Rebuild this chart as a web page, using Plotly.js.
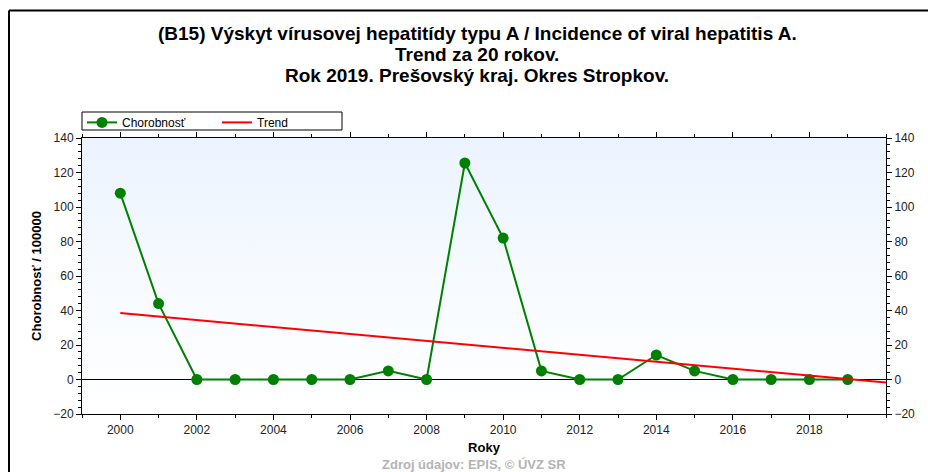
<!DOCTYPE html>
<html>
<head>
<meta charset="utf-8">
<script src="https://cdn.plot.ly/plotly-3.0.1.min.js"></script>
<style>
  body { margin: 0; background: #fff; }
  #wrap { position: relative; width: 928px; height: 472px; }
  #bg { position: absolute; left: 82px; top: 138px; width: 804px; height: 276px;
        background: linear-gradient(to bottom, #ebf3fe 0%, #f7fbff 55%, #ffffff 100%); }
  #graph { position: absolute; left: 0; top: 0; width: 928px; height: 472px; }
</style>
</head>
<body>
<div id="wrap">
  <div id="bg"></div>
  <div id="graph"></div>
</div>
<script>
let roky = [2000, 2001, 2002, 2003, 2004, 2005, 2006, 2007, 2008, 2009,
            2010, 2011, 2012, 2013, 2014, 2015, 2016, 2017, 2018, 2019];
let chorobnost = [108, 44, 0, 0, 0, 0, 0, 5, 0, 125.5,
                  82, 5, 0, 0, 14.2, 5, 0, 0, 0, 0];
let trend_roky = [2000, 2020];
let trend_hodnoty = [38.5, -1.7];
let tick_roky = [2000, 2002, 2004, 2006, 2008, 2010, 2012, 2014, 2016, 2018];
let nadpis = [
    '(B15) Výskyt vírusovej hepatitídy typu A / Incidence of viral hepatitis A.',
    'Trend za 20 rokov.',
    'Rok 2019. Prešovský kraj. Okres Stropkov.'
];

let font_family = 'Liberation Sans, Arial, sans-serif';

let trace_chorobnost = {
    x: roky,
    y: chorobnost,
    name: 'Chorobnosť',
    type: 'scatter',
    mode: 'lines+markers',
    line: {color: '#008000', width: 2},
    marker: {color: '#008000', size: 11}
};

let trace_trend = {
    x: trend_roky,
    y: trend_hodnoty,
    name: 'Trend',
    type: 'scatter',
    mode: 'lines',
    yaxis: 'y2',
    line: {color: '#ff0000', width: 2}
};

let osY = {
    range: [-20, 140],
    dtick: 20,
    tick0: 0,
    ticks: 'outside',
    ticklen: 5,
    tickcolor: '#000',
    showgrid: false,
    showline: true,
    linecolor: '#000',
    linewidth: 1,
    zeroline: true,
    zerolinecolor: '#000',
    zerolinewidth: 1,
    tickfont: {family: font_family, size: 12, color: '#222'},
    minor: {dtick: 4, ticks: 'outside', ticklen: 3, tickcolor: '#000', showgrid: false},
    fixedrange: true
};

// riadky nadpisu ako samostatne anotacie (kvoli rozostupu)
let nadpis_y = [33, 54, 76];
let anotacie = nadpis.map((t, i) => ({
    text: '<b>' + t + '</b>', xref: 'paper', yref: 'paper',
    x: (477 - 82) / 804, y: (414 - nadpis_y[i]) / 276,
    xanchor: 'center', yanchor: 'middle', showarrow: false,
    font: {family: font_family, size: 19, color: '#000'}
}));
anotacie.push({
    text: '<b>Zdroj údajov: EPIS, © ÚVZ SR</b>', xref: 'paper', yref: 'paper',
    x: (474 - 82) / 804, y: (414 - 464) / 276, xanchor: 'center', yanchor: 'middle', showarrow: false,
    font: {family: font_family, size: 13, color: '#b4b4b4'}
});

let layout = {
    width: 928,
    height: 472,
    margin: {l: 82, r: 42, t: 138, b: 58},
    paper_bgcolor: 'rgba(0,0,0,0)',
    plot_bgcolor: 'rgba(0,0,0,0)',
    font: {family: font_family, color: '#000'},
    xaxis: {
        range: [1999, 2020],
        tickvals: tick_roky,
        ticks: 'outside',
        ticklen: 5,
        tickcolor: '#000',
        showgrid: false,
        showline: true,
        linecolor: '#000',
        mirror: 'ticks',
        zeroline: false,
        tickfont: {family: font_family, size: 12, color: '#222'},
        minor: {dtick: 1, tick0: 2000, ticks: 'outside', ticklen: 3, tickcolor: '#000', showgrid: false},
        title: {text: '<b>Roky</b>', font: {family: font_family, size: 13, color: '#000'}, standoff: 6}
    },
    yaxis: Object.assign({}, osY, {
        title: {text: '<b>Chorobnosť / 100000</b>', font: {family: font_family, size: 13, color: '#000'}, standoff: 8}
    }),
    yaxis2: Object.assign({}, osY, {
        overlaying: 'y',
        side: 'right',
        zeroline: false
    }),
    showlegend: true,
    legend: {
        orientation: 'h',
        x: 0,
        xanchor: 'left',
        y: 1.004,
        yanchor: 'bottom',
        borderwidth: 0,
        bgcolor: 'rgba(0,0,0,0)',
        font: {family: font_family, size: 12, color: '#000'},
        traceorder: 'normal',
        itemwidth: 30,
        entrywidth: 90
    },
    shapes: [
        {type: 'line', xref: 'paper', yref: 'paper', x0: -0.0908, x1: -0.0908, y0: 1.462, y1: -0.22,
         line: {color: '#000', width: 2}},
        {type: 'line', xref: 'paper', yref: 'paper', x0: -0.0908, x1: 1.06, y0: 1.462, y1: 1.462,
         line: {color: '#000', width: 2}},
        // ramcek legendy
        {type: 'rect', xref: 'paper', yref: 'paper', x0: 0, x1: (342 - 82) / 804,
         y0: (414 - 130) / 276, y1: (414 - 112) / 276,
         line: {color: '#000', width: 1}, fillcolor: '#fff', layer: 'below'}
    ],
    annotations: anotacie
};

let config = {displayModeBar: false, staticPlot: true};

Plotly.newPlot('graph', [trace_chorobnost, trace_trend], layout, config);
</script>
</body>
</html>
